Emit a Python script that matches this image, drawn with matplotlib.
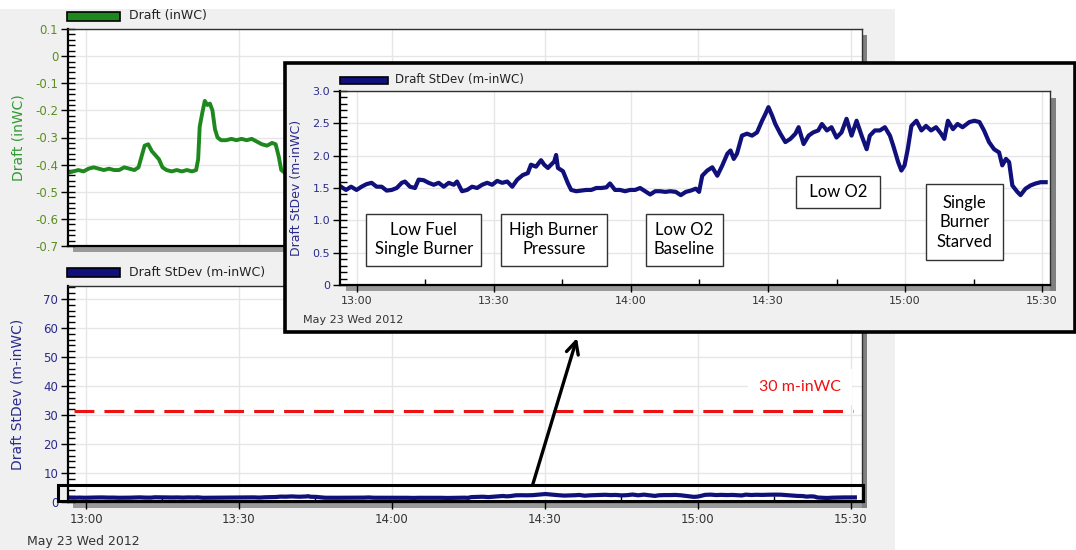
import matplotlib
matplotlib.use("Agg")
import matplotlib.pyplot as plt
from matplotlib.patches import Rectangle
from matplotlib.ticker import MultipleLocator, FixedLocator, FuncFormatter

plt.rcParams["axes.unicode_minus"] = False

# ---- data (time = minutes after 13:00) ----
draft_t = [-3.5, -2.5, -1.5, -0.5, 0.5, 1.5, 2.5, 3.5, 4.5, 5.5, 6.5, 7.5, 8.5, 9.5,
           10.3, 10.9, 11.5, 12.2, 12.9, 13.6, 14.3, 15.0, 15.8, 16.8, 17.8, 18.8,
           19.8, 20.8, 21.6, 22.0, 22.3, 22.8, 23.3, 23.8, 24.3, 24.8, 25.3, 25.8,
           26.5, 27.5, 28.5, 29.5, 30.5, 31.5, 32.5, 33.5, 34.5, 35.5, 36.5, 37.2,
           37.8, 38.3, 39.0, 40.0, 42.0, 45.0]
draft_v = [-0.43, -0.425, -0.42, -0.425, -0.415, -0.41, -0.415, -0.42, -0.415, -0.42,
           -0.42, -0.41, -0.415, -0.42, -0.41, -0.37, -0.33, -0.325, -0.35, -0.365,
           -0.38, -0.41, -0.42, -0.425, -0.42, -0.425, -0.42, -0.425, -0.42, -0.38,
           -0.26, -0.21, -0.165, -0.18, -0.175, -0.2, -0.27, -0.3, -0.31, -0.31,
           -0.305, -0.31, -0.305, -0.31, -0.305, -0.315, -0.325, -0.33, -0.32, -0.325,
           -0.37, -0.42, -0.43, -0.425, -0.43, -0.425]

sd_t = [-3.5, -2.4, -1.3, -0.1, 1.0, 2.1, 3.2, 4.3, 5.4, 6.5, 7.6, 8.7, 9.8, 10.5,
        11.6, 12.7, 13.5, 14.6, 15.7, 16.8, 17.9, 19.0, 20.1, 21.2, 21.9, 23.0, 24.1,
        25.2, 26.3, 27.4, 28.5, 29.6, 30.7, 31.8, 32.9, 34.0, 35.1, 36.3, 37.4, 38.1,
        39.2, 40.3, 41.0, 41.8, 42.5, 43.2, 43.6, 44.0, 45.1, 46.2, 46.9, 48.0, 49.1,
        50.2, 51.3, 52.4, 53.5, 54.6, 55.4, 56.5, 57.6, 58.7, 59.8, 60.9, 62.0, 63.1,
        64.2, 65.3, 66.4, 67.5, 68.6, 69.8, 70.9, 72.0, 73.1, 74.2, 74.9, 75.6, 76.7,
        77.8, 78.9, 80.0, 81.1, 81.8, 82.5, 83.2, 84.3, 85.4, 86.5, 87.6, 88.7, 89.4,
        90.1, 90.9, 91.6, 92.7, 93.8, 94.9, 96.0, 96.7, 97.8, 98.9, 99.9, 101.0,
        101.8, 102.9, 103.9, 105.0, 106.1, 107.2, 108.3, 109.4, 110.5, 111.6, 112.3,
        113.4, 114.5, 115.6, 116.7, 117.4, 118.5, 119.2, 119.9, 120.6, 121.4, 122.5,
        123.6, 124.6, 125.7, 126.8, 127.9, 128.6, 129.4, 130.5, 131.5, 132.6, 134.1,
        135.2, 136.3, 137.3, 138.4, 139.5, 140.6, 141.3, 142.1, 142.8, 143.5, 144.6,
        145.3, 146.4, 147.5, 148.6, 149.7, 150.8]
sd_v = [1.52, 1.47, 1.52, 1.47, 1.52, 1.56, 1.58, 1.52, 1.52, 1.46, 1.47, 1.50, 1.58,
        1.60, 1.52, 1.50, 1.63, 1.62, 1.58, 1.55, 1.58, 1.52, 1.58, 1.55, 1.60, 1.45,
        1.47, 1.52, 1.50, 1.55, 1.58, 1.55, 1.61, 1.58, 1.60, 1.52, 1.63, 1.70, 1.73,
        1.86, 1.83, 1.93, 1.86, 1.81, 1.86, 1.91, 2.01, 1.81, 1.76, 1.57, 1.47, 1.45,
        1.46, 1.47, 1.47, 1.50, 1.50, 1.51, 1.57, 1.47, 1.47, 1.45, 1.47, 1.47, 1.50,
        1.45, 1.40, 1.45, 1.45, 1.44, 1.45, 1.44, 1.39, 1.44, 1.46, 1.49, 1.44, 1.69,
        1.77, 1.82, 1.69, 1.85, 2.03, 2.08, 1.95, 2.03, 2.31, 2.34, 2.31, 2.36, 2.54,
        2.64, 2.75, 2.62, 2.49, 2.34, 2.21, 2.26, 2.34, 2.44, 2.18, 2.31, 2.36, 2.39,
        2.49, 2.39, 2.44, 2.28, 2.36, 2.57, 2.31, 2.54, 2.31, 2.10, 2.31, 2.39, 2.39,
        2.44, 2.31, 2.16, 1.90, 1.77, 1.85, 2.10, 2.46, 2.54, 2.39, 2.46, 2.39, 2.44,
        2.34, 2.26, 2.54, 2.41, 2.49, 2.44, 2.52, 2.54, 2.52, 2.39, 2.21, 2.10, 2.05,
        1.85, 1.95, 1.90, 1.54, 1.44, 1.39, 1.49, 1.54, 1.57, 1.59, 1.59]

time_ticks = [0, 30, 60, 90, 120, 150]
time_labels = ["13:00", "13:30", "14:00", "14:30", "15:00", "15:30"]
date_label = "May 23 Wed 2012"

limit_value = 31.5
limit_label = "30 m-inWC"

notes = ["Low Fuel\nSingle Burner", "High Burner\nPressure", "Low O2\nBaseline",
         " Low O2 ", "Single\nBurner\nStarved"]
note_t = [14.6, 43.1, 71.7, 105.3, 133.0]
note_v = [0.70, 0.70, 0.70, 1.44, 0.97]
note_pad = [0.5, 0.5, 0.5, 0.5, 0.65]

GREEN = "#1e881e"
NAVY = "#10107a"
BG = "#f0f0f0"
W, H = 1076, 550


def fig_box(x0, y0, x1, y1):
    # pixel box (top-left origin) -> figure fraction rect
    return [x0 / W, 1 - y1 / H, (x1 - x0) / W, (y1 - y0) / H]


def fig_rect(fig, x0, y0, x1, y1, **kw):
    l, b, w, h = fig_box(x0, y0, x1, y1)
    r = Rectangle((l, b), w, h, transform=fig.transFigure, **kw)
    fig.add_artist(r)
    return r


def fmt(dec):
    return FuncFormatter(lambda v, _: "0" if abs(v) < 1e-9 else f"{v:.{dec}f}")


def style(ax, ylim, major, minor, dec, tick_color, xlim, fs=8.5):
    ax.set_xlim(*xlim)
    ax.set_ylim(*ylim)
    ax.yaxis.set_major_locator(MultipleLocator(major))
    ax.yaxis.set_minor_locator(MultipleLocator(minor))
    ax.yaxis.set_major_formatter(fmt(dec))
    ax.xaxis.set_major_locator(FixedLocator(time_ticks))
    ax.xaxis.set_minor_locator(MultipleLocator(15))
    ax.set_xticklabels(time_labels)
    ax.tick_params(axis="y", which="major", direction="inout", length=10, width=1,
                   labelsize=fs, labelcolor=tick_color, pad=2)
    ax.tick_params(axis="y", which="minor", direction="in", length=5, width=1)
    ax.tick_params(axis="x", which="major", direction="out", length=5, width=1,
                   labelsize=fs, labelcolor="#333333", pad=3)
    ax.tick_params(axis="x", which="minor", direction="in", length=4, width=1)
    ax.grid(True, which="major", color="#e6e6e6", lw=1)
    ax.set_axisbelow(True)
    for s in ("top", "right"):
        ax.spines[s].set_color("#303030")
        ax.spines[s].set_linewidth(1)
    for s in ("left", "bottom"):
        ax.spines[s].set_linewidth(1.6)


fig = plt.figure(figsize=(10.76, 5.5), dpi=100)
fig.patch.set_facecolor("white")
fig_rect(fig, 0, 9, 895, 550, facecolor=BG, edgecolor="none", zorder=-5)

xlim_main = (-3.53, 152.2)

# shadows under the two main panels
fig_rect(fig, 73, 246, 867, 252, facecolor="#9a9a9a", edgecolor="none", zorder=0.5)
fig_rect(fig, 862, 35, 867, 252, facecolor="#808080", edgecolor="none", zorder=0.5)
fig_rect(fig, 73, 502, 867, 508, facecolor="#9a9a9a", edgecolor="none", zorder=0.5)
fig_rect(fig, 862, 292, 867, 508, facecolor="#808080", edgecolor="none", zorder=0.5)

# ---- top: draft ----
ax1 = fig.add_axes(fig_box(68, 29, 862, 246), zorder=1)
style(ax1, (-0.7, 0.1), 0.1, 0.02, 1, "#5a8f1e", xlim_main)
ax1.tick_params(axis="x", which="both", length=0, labelbottom=False)
ax1.plot(draft_t, draft_v, color=GREEN, lw=2.8)
ax1.set_ylabel("Draft (inWC)", color="#2f9a2f", fontsize=10)
ax1.yaxis.set_label_coords((25 - 68) / 794, 0.5)

fig_rect(fig, 67, 12, 120, 21, facecolor=GREEN, edgecolor="black", lw=1.2, zorder=2)
fig.text(129 / W, 1 - 16 / H, "Draft (inWC)", fontsize=9, color="#222222", va="center")

# ---- bottom: draft stdev full scale ----
ax2 = fig.add_axes(fig_box(68, 286, 862, 502), zorder=1)
style(ax2, (0, 74.5), 10, 2, 0, "#2b2b8c", xlim_main)
ax2.plot(sd_t, sd_v, color=NAVY, lw=3)
ax2.plot([-2.35, 150.4], [limit_value, limit_value], color="#ee1111", lw=2.2,
         linestyle=(0, (6.5, 3.3)))
ax2.text(140, 39.7, limit_label, color="#ee1111", fontsize=11.5, family="Lato",
         ha="center", va="center",
         bbox=dict(facecolor="white", edgecolor="none", pad=8))
ax2.set_ylabel("Draft StDev (m-inWC)", color="#2b2b8c", fontsize=10)
ax2.yaxis.set_label_coords((25 - 68) / 794, 0.5)
ax2.add_patch(Rectangle((-5.5, 0.3), 157.9, 5.6, fill=False, edgecolor="black",
                        lw=2.2, clip_on=False, zorder=5))
ax2.annotate("", xy=(577 / W, 1 - 338 / H), xycoords="figure fraction",
             xytext=(87.6, 5.9), textcoords="data", annotation_clip=False,
             arrowprops=dict(arrowstyle="->", lw=2.4, color="black",
                             mutation_scale=22, shrinkA=0, shrinkB=0))

fig_rect(fig, 67, 268, 120, 277, facecolor=NAVY, edgecolor="black", lw=1.2, zorder=2)
fig.text(129 / W, 1 - 272 / H, "Draft StDev (m-inWC)", fontsize=9, color="#222222",
         va="center")
fig.text(27 / W, 1 - 541 / H, date_label, fontsize=9, color="#333333", va="center")

# ---- zoomed inset ----
fig_rect(fig, 285, 63, 1075, 332, facecolor=BG, edgecolor="black", lw=2.6, zorder=3)
fig_rect(fig, 346, 285, 1056, 291, facecolor="#9a9a9a", edgecolor="none", zorder=3.5)
fig_rect(fig, 1050, 98, 1056, 291, facecolor="#808080", edgecolor="none", zorder=3.5)

ax3 = fig.add_axes(fig_box(340, 91, 1050, 285), zorder=4)
style(ax3, (0, 3.0), 0.5, 0.1, 1, "#2b2b8c", (-3.72, 151.75), fs=8)
ax3.plot(sd_t, sd_v, color=NAVY, lw=3)
ax3.set_ylabel("Draft StDev (m-inWC)", color="#2b2b8c", fontsize=9)
ax3.yaxis.set_label_coords((303 - 340) / 710, 0.5)
for txt, t, v, p in zip(notes, note_t, note_v, note_pad):
    ax3.text(t, v, txt, fontsize=12, family="Lato", ha="center", va="center",
             linespacing=1.25, color="black",
             bbox=dict(boxstyle=f"square,pad={p}", facecolor="white",
                       edgecolor="#333333", lw=1))

fig_rect(fig, 340, 77, 388, 84, facecolor=NAVY, edgecolor="black", lw=1.2, zorder=5)
fig.text(395 / W, 1 - 80 / H, "Draft StDev (m-inWC)", fontsize=8.5, color="#222222",
         va="center", zorder=5)
fig.text(303 / W, 1 - 320 / H, date_label, fontsize=8, color="#333333", va="center",
         zorder=5)

fig.savefig("out.png", dpi=100)
